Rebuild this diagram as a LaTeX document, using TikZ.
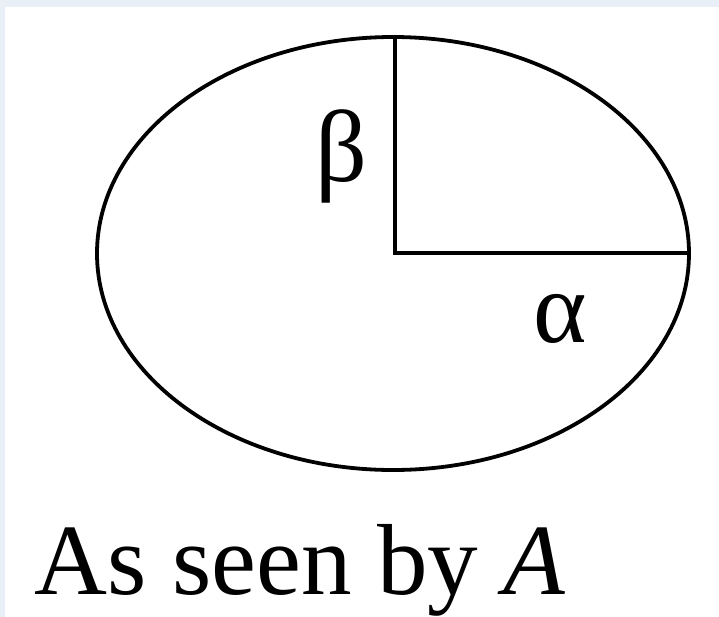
\documentclass[tikz,border=0pt]{standalone}
\usepackage{fontspec}
\setmainfont{Liberation Serif}
\usepackage{tikz}
\definecolor{paperBlue}{RGB}{233, 239, 247}

\begin{document}
\begin{tikzpicture}[x=0.5pt, y=-0.5pt, line width=1.9pt,
    label/.style={inner sep=0pt, font=\fontsize{51}{60}\selectfont}]
      % background
      \fill[paperBlue] (0,0) rectangle (719,617);
      \fill[white] (5,7) rectangle (719,617);
      \useasboundingbox (0,0) rectangle (719,617);

      \draw (393,253.5) ellipse [x radius=296, y radius=216.5];

      \coordinate (O) at (395,253);
      \coordinate (T) at (395,37);
      \coordinate (R) at (689,253);
      \draw (T) -- (O) -- (R);

      \node[label] (beta) at (341,156) {β};
      \node[label] (alpha) at (560,319) {α};
      \node[label, anchor=base west, font=\fontsize{50.5}{58}\selectfont] (caption) at (33,594) {As seen by \textit{A}};
    \end{tikzpicture}
\end{document}
